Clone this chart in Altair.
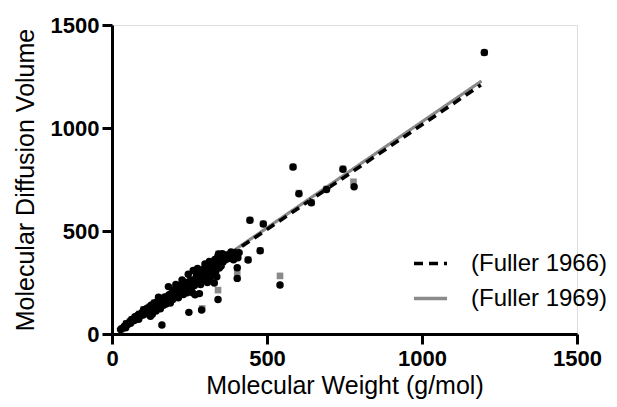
import altair as alt
import pandas as pd

# Fuller 1966 (black circles): molecular weight, diffusion volume
mw_1966 = [28, 32, 40, 44, 46, 50, 58, 60, 64, 72, 74, 78, 84, 86, 88, 92, 98, 100, 102, 106,
           110, 112, 116, 120, 122, 126, 128, 130, 134, 136, 140, 142, 146, 148, 152, 154, 156, 160,
           162, 166, 168, 172, 176, 178, 182, 184, 186, 190, 194, 196, 200, 204, 206, 210, 214, 218,
           222, 226, 230, 232, 236, 240, 244, 248, 250, 254, 258, 260, 264, 268, 272, 274, 278, 280,
           282, 286, 288, 290, 294, 296, 300, 304, 306, 310, 312, 316, 320, 322, 326, 330, 334, 338,
           342, 344, 348, 352, 356, 360, 366, 372, 380, 388, 396, 400, 404, 406,
           118, 138, 174, 198, 216, 246, 266, 292, 308, 318, 328, 336, 346, 358, 376, 392, 398,
           150, 206, 226, 246, 262, 276, 300, 314, 332, 356, 370, 384, 392, 410, 124, 188, 242,
           161, 289, 342, 404, 404, 439, 478, 445, 488, 542, 584, 603, 643, 692, 745, 781, 1201]
dv_1966 = [22, 27, 38, 30, 50, 45, 62, 52, 70, 66, 84, 80, 92, 72, 96, 88, 106, 92, 118, 104,
           98, 124, 112, 130, 108, 140, 118, 96, 128, 150, 138, 112, 156, 132, 145, 166, 122, 150,
           174, 140, 160, 180, 150, 168, 230, 190, 160, 176, 200, 168, 210, 186, 222, 198, 176, 214,
           236, 206, 192, 240, 222, 250, 214, 105, 238, 262, 228, 200, 250, 190, 280, 256, 300, 270,
           196, 240, 310, 284, 300, 264, 322, 296, 276, 330, 306, 262, 340, 290, 318, 248, 300, 278,
           380, 388, 356, 330, 372, 382, 360, 376, 384, 382, 370, 392, 388, 370,
           102, 118, 146, 186, 196, 230, 236, 268, 250, 300, 286, 346, 320, 350, 366, 360, 378,
           178, 240, 262, 290, 308, 318, 340, 352, 362, 390, 384, 398, 395, 395, 86, 150, 200,
           44, 116, 168, 322, 270, 359, 404, 552, 534, 238, 811, 681, 637, 702, 800, 715, 1367]

# Fuller 1969 (grey squares)
mw_1969 = [30, 46, 64, 88, 102, 120, 136, 154, 172, 194, 206, 222, 240, 254, 272, 288, 300, 320,
           344, 360, 380, 400, 291, 342, 404, 542, 584, 603, 643, 692, 745, 779, 1201, 445, 488,
           439, 478]
dv_1969 = [24, 51, 71, 97, 119, 131, 151, 167, 181, 201, 223, 237, 251, 263, 281, 311, 323, 341,
           389, 383, 385, 393, 124, 213, 296, 282, 811, 684, 639, 704, 802, 739, 1366, 553, 535,
           361, 405]

# Linear fits (end points)
fit_series = ["(Fuller 1966)", "(Fuller 1966)", "(Fuller 1969)", "(Fuller 1969)"]
fit_mw = [18, 1190, 18, 1192]
fit_dv = [18, 1209, 19, 1228]

pts66 = pd.DataFrame({"mw": mw_1966, "dv": dv_1966})
pts69 = pd.DataFrame({"mw": mw_1969, "dv": dv_1969})
fits = pd.DataFrame({"series": fit_series, "mw": fit_mw, "dv": fit_dv})

FONT = "Liberation Sans"
SERIES = ["(Fuller 1966)", "(Fuller 1969)"]
xscale = alt.Scale(domain=[0, 1500], nice=False, zero=True)
yscale = alt.Scale(domain=[0, 1500], nice=False, zero=True)

xaxis = alt.Axis(title="Molecular Weight (g/mol)", values=[0, 500, 1000, 1500], format="d", grid=False,
                 labelFont=FONT, labelFontSize=22, labelFontWeight="bold", labelColor="#000",
                 titleFont=FONT, titleFontSize=25, titleFontWeight="normal", titleColor="#000",
                 domainColor="#000", domainWidth=3, tickColor="#000", tickWidth=3, tickSize=10,
                 labelPadding=4, titleBaseline="alphabetic", titleY=59, labelFlush=False)
yaxis = alt.Axis(title="Molecular Diffusion Volume", values=[0, 500, 1000, 1500], format="d", grid=False,
                 labelFont=FONT, labelFontSize=22, labelFontWeight="bold", labelColor="#000",
                 titleFont=FONT, titleFontSize=25, titleFontWeight="normal", titleColor="#000",
                 domainColor="#000", domainWidth=3, tickColor="#000", tickWidth=3, tickSize=10,
                 labelPadding=3, titleBaseline="alphabetic", titleX=-79, titleY=154.5,
                 titleAngle=-90, labelFlush=False)

color_enc = alt.Color("series:N",
                      scale=alt.Scale(domain=SERIES, range=["#000000", "#8a8a8a"]),
                      legend=alt.Legend(title=None, orient="none", legendX=300, legendY=220,
                                        symbolType="stroke", symbolSize=1089, symbolStrokeWidth=3.5,
                                        labelFont=FONT, labelFontSize=24, labelColor="#000",
                                        labelOffset=22, rowPadding=4, labelLimit=300))
dash_enc = alt.StrokeDash("series:N",
                          scale=alt.Scale(domain=SERIES, range=[[9, 6], [1, 0]]),
                          legend=None)

line69 = alt.Chart(fits).mark_line(strokeWidth=3.2).encode(
    x=alt.X("mw:Q", scale=xscale, axis=xaxis),
    y=alt.Y("dv:Q", scale=yscale, axis=yaxis),
    color=color_enc,
    strokeDash=dash_enc,
).transform_filter(alt.datum.series == "(Fuller 1969)")
line66 = alt.Chart(fits).mark_line(strokeWidth=3.6).encode(
    x=alt.X("mw:Q", scale=xscale, axis=xaxis),
    y=alt.Y("dv:Q", scale=yscale, axis=yaxis),
    color=color_enc,
    strokeDash=dash_enc,
).transform_filter(alt.datum.series == "(Fuller 1966)")

sq = alt.Chart(pts69).mark_point(shape="square", filled=True, size=44, opacity=1).encode(
    x=alt.X("mw:Q", scale=xscale), y=alt.Y("dv:Q", scale=yscale), color=alt.value("#8a8a8a"))
circ = alt.Chart(pts66).mark_point(shape="circle", filled=True, size=56, opacity=1).encode(
    x=alt.X("mw:Q", scale=xscale), y=alt.Y("dv:Q", scale=yscale), color=alt.value("#000000"))

chart = alt.layer(line69, line66, sq, circ).properties(
    width=465, height=309,
    autosize=alt.AutoSizeParams(type="none"),
    padding={"left": 112, "top": 25, "right": 40, "bottom": 73},
).configure_view(stroke=None).configure(background="white")

chart.save("out.html", embed_options={"renderer": "svg", "actions": False})
